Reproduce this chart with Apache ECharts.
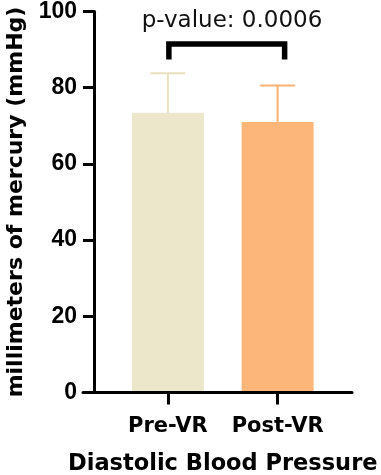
<!DOCTYPE html>
<html>
<head>
<meta charset="utf-8">
<script src="https://cdn.jsdelivr.net/npm/echarts@6/dist/echarts.min.js"></script>
<style>
  html, body { margin: 0; padding: 0; background: #fff; }
  #chart { width: 381px; height: 475px; }
</style>
</head>
<body>
<div id="chart"></div>
<script>
// values
var categories = ['Pre-VR', 'Post-VR'];
var means = [73.4, 71.0];
var upper = [83.8, 80.6];
var barColors = ['#ECE6CA', '#FDB67A'];
var errColors = ['#E9E0BE', '#FBB272'];
var yTicks = { min: 0, max: 100, interval: 20 };
var pText = 'p-value: 0.0006';
var bracket = { top: 91.5, leg: 87.4 };

var myChart = echarts.init(document.getElementById('chart'));

var boldFont = 'DejaVu Sans';

var option = {
    backgroundColor: '#fff',
    animation: false,
    title: {
        text: pText,
        left: 227,
        top: 5,
        textAlign: 'center',
        textStyle: {
            fontFamily: boldFont,
            fontWeight: 'normal',
            fontSize: 23,
            color: '#111'
        }
    },
    grid: [
        { left: 113, right: 48.5, top: 11.5, bottom: 82.5, outerBoundsContain: 'axisLabel' },
        // only for the long baseline
        { left: 83, right: 29, top: 11.5, bottom: 82.5, outerBoundsContain: 'axisLabel' }
    ],
    xAxis: [
        {
            type: 'category',
            gridIndex: 0,
            data: categories,
            axisLine: { show: true, onZero: false, lineStyle: { color: '#000', width: 3 } },
            axisTick: {
                show: true,
                interval: 0,
                alignWithLabel: true,
                length: 12,
                lineStyle: { color: '#000', width: 3 }
            },
            axisLabel: {
                interval: 0,
                margin: 24,
                fontFamily: boldFont,
                fontWeight: 'bold',
                fontSize: 21,
                color: '#000'
            },
            name: 'Diastolic Blood Pressure',
            nameLocation: 'middle',
            nameGap: 60,
            nameTextStyle: {
                fontFamily: boldFont,
                fontWeight: 'bold',
                fontSize: 22.5,
                color: '#000'
            },
            z: 5
        },
        {
            type: 'value',
            gridIndex: 1,
            min: 0,
            max: 1,
            axisLine: { show: true, onZero: false, lineStyle: { color: '#000', width: 3 } },
            axisTick: { show: false },
            axisLabel: { show: false },
            splitLine: { show: false }
        }
    ],
    yAxis: [
        {
            type: 'value',
            gridIndex: 0,
            min: yTicks.min,
            max: yTicks.max,
            interval: yTicks.interval,
            offset: 19,
            axisLine: { show: true, lineStyle: { color: '#000', width: 3 } },
            axisTick: { show: true, length: 11, lineStyle: { color: '#000', width: 3 } },
            axisLabel: {
                margin: 17,
                fontFamily: 'Liberation Sans',
                fontWeight: 'bold',
                fontSize: 23,
                color: '#000'
            },
            splitLine: { show: false },
            name: 'millimeters of mercury (mmHg)',
            nameLocation: 'middle',
            nameRotate: 90,
            nameGap: 67,
            nameTextStyle: {
                fontFamily: boldFont,
                fontWeight: 'bold',
                fontSize: 22,
                color: '#000'
            }
        },
        {
            type: 'value',
            gridIndex: 1,
            show: false,
            min: 0,
            max: 1
        }
    ],
    series: [
        {
            type: 'bar',
            xAxisIndex: 0,
            yAxisIndex: 0,
            barWidth: 72,
            data: means.map(function(v, i) {
                return { value: v, itemStyle: { color: barColors[i] } };
            }),
            z: 2
        },
        {
            // error bars (upper only)
            type: 'custom',
            xAxisIndex: 0,
            yAxisIndex: 0,
            data: means.map(function(v, i) { return [i, v, upper[i]]; }),
            renderItem: function(params, api) {
                var idx = api.value(0);
                var lo = api.coord([idx, api.value(1)]);
                var hi = api.coord([idx, api.value(2)]);
                var half = 17.5;
                var st = { stroke: errColors[idx], lineWidth: 2, fill: null };
                return {
                    type: 'group',
                    children: [
                        { type: 'line', shape: { x1: lo[0], y1: lo[1], x2: hi[0], y2: hi[1] }, style: st },
                        { type: 'line', shape: { x1: hi[0] - half, y1: hi[1], x2: hi[0] + half, y2: hi[1] }, style: st }
                    ]
                };
            },
            z: 3
        },
        {
            // significance bracket
            type: 'custom',
            xAxisIndex: 0,
            yAxisIndex: 0,
            data: [[0, 1, bracket.top, bracket.leg]],
            renderItem: function(params, api) {
                var a = api.coord([api.value(0), api.value(3)]);
                var b = api.coord([api.value(1), api.value(3)]);
                var t = api.coord([api.value(0), api.value(2)]);
                var x1 = a[0] + 1, x2 = b[0] + 7;
                return {
                    type: 'polyline',
                    shape: { points: [[x1, a[1]], [x1, t[1]], [x2, t[1]], [x2, b[1]]] },
                    style: { stroke: '#000', lineWidth: 5.5, fill: null, lineJoin: 'miter', lineCap: 'butt' }
                };
            },
            z: 4
        }
    ]
};

myChart.setOption(option);
</script>
</body>
</html>
